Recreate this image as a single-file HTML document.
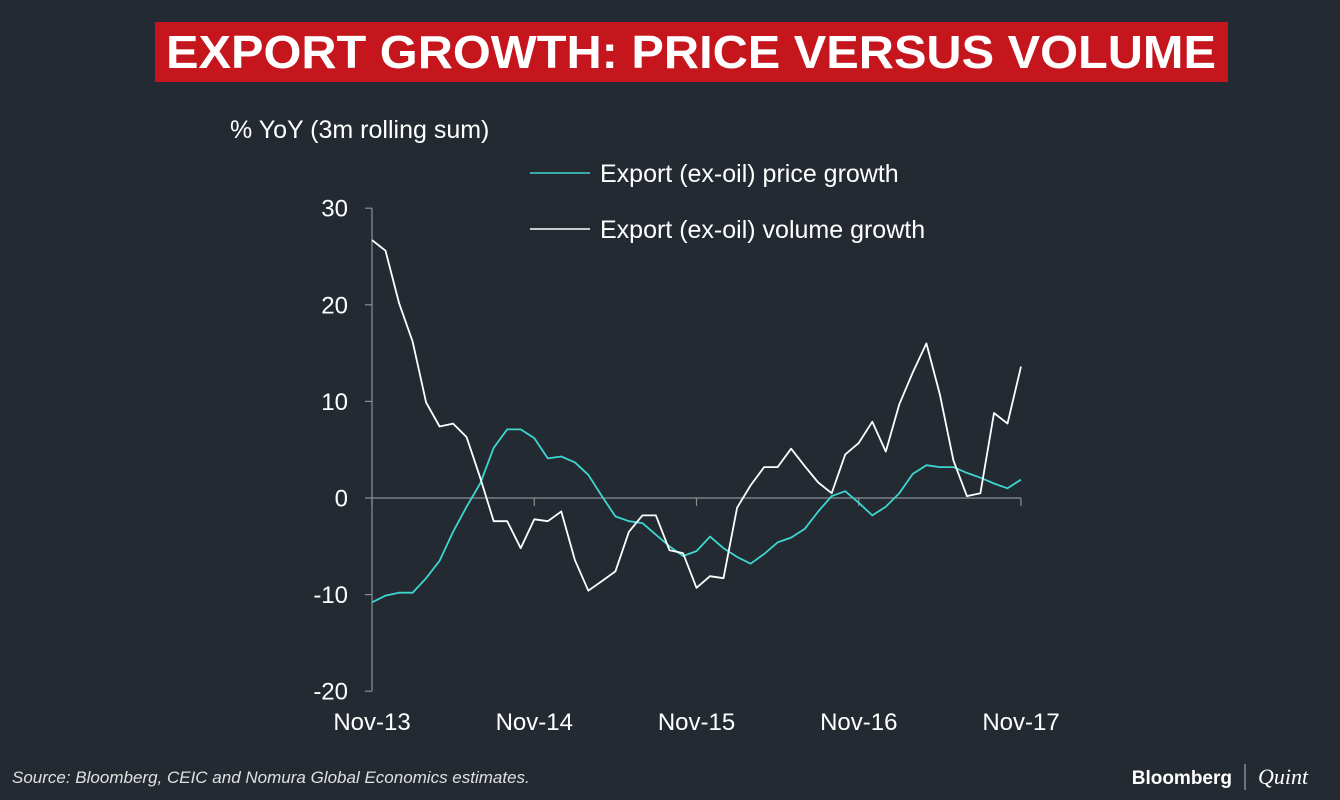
<!DOCTYPE html>
<html><head><meta charset="utf-8"><style>
html,body{margin:0;padding:0;background:#232a31;}
svg{display:block;font-family:"Liberation Sans",Arial,sans-serif;}
</style></head><body>
<svg id="chart" width="1340" height="800" viewBox="0 0 1340 800">
<rect x="0" y="0" width="1340" height="800" fill="#232a31"/>
<rect x="155" y="22" width="1073" height="60" fill="#c4161c"/>
<text x="691" y="68" text-anchor="middle" fill="#fff" font-size="46" font-weight="bold" textLength="1050" lengthAdjust="spacingAndGlyphs">EXPORT GROWTH: PRICE VERSUS VOLUME</text>
<text x="230" y="138" fill="#fff" font-size="25">% YoY (3m rolling sum)</text>
<g>
<line x1="530" y1="173" x2="590" y2="173" stroke="#3dd6d0" stroke-width="1.6"/>
<text x="600" y="182" fill="#fff" font-size="25">Export (ex-oil) price growth</text>
<line x1="530" y1="229" x2="590" y2="229" stroke="#fff" stroke-width="1.6"/>
<text x="600" y="238" fill="#fff" font-size="25">Export (ex-oil) volume growth</text>
</g>
<g id="axes"></g>
<g id="series"></g>
<text x="12" y="783" fill="#e0e0e0" font-size="17" font-style="italic">Source: Bloomberg, CEIC and Nomura Global Economics estimates.</text>
<text x="1232" y="784" text-anchor="end" fill="#fff" font-size="19" font-weight="bold">Bloomberg</text>
<line x1="1245" y1="764" x2="1245" y2="790" stroke="#bbb" stroke-width="1"/>
<text x="1258" y="784" fill="#fff" font-size="22" font-style="italic" font-family="Liberation Serif, serif">Quint</text>
</svg>
<script>
const yTicks = [30, 20, 10, 0, -10, -20];
const xTickLabels = ["Nov-13", "Nov-14", "Nov-15", "Nov-16", "Nov-17"];
const xTickIndex = [0, 12, 24, 36, 48];
const priceGrowth = [-10.8,-10.1,-9.8,-9.8,-8.3,-6.5,-3.5,-0.9,1.5,5.2,7.1,7.1,6.2,4.1,4.3,3.7,2.4,0.2,-1.9,-2.4,-2.6,-3.8,-5.0,-6.0,-5.5,-4.0,-5.2,-6.1,-6.8,-5.8,-4.6,-4.1,-3.2,-1.4,0.2,0.7,-0.5,-1.8,-0.9,0.5,2.5,3.4,3.2,3.2,2.6,2.1,1.5,1.0,1.9];
const volumeGrowth = [26.7,25.6,20.2,16.2,9.9,7.4,7.7,6.3,2.1,-2.4,-2.4,-5.2,-2.2,-2.4,-1.4,-6.4,-9.6,-8.6,-7.6,-3.5,-1.8,-1.8,-5.4,-5.7,-9.3,-8.1,-8.3,-1.0,1.3,3.2,3.2,5.1,3.3,1.6,0.5,4.5,5.7,7.9,4.8,9.7,13.0,16.0,10.7,3.9,0.2,0.5,8.8,7.7,13.6];

const NS = "http://www.w3.org/2000/svg";
const X0 = 372, X1 = 1021, Y0 = 498, PX_PER_UNIT = 9.66;
const nPts = priceGrowth.length;
function xScale(i){ return X0 + (X1 - X0) * i / (nPts - 1); }
function yScale(v){ return Y0 - v * PX_PER_UNIT; }
function mk(tag, attrs, parent){ const e = document.createElementNS(NS, tag); for (const k in attrs) e.setAttribute(k, attrs[k]); parent.appendChild(e); return e; }

const axes = document.getElementById("axes");
const yAxis = mk("line", {x1:X0, y1:yScale(30), x2:X0, y2:yScale(-20), stroke:"#8a9096", "stroke-width":1.2}, axes);


yTicks.forEach(v => {
  const t = mk("line", {x1:X0-7, y1:yScale(v), x2:X0, y2:yScale(v), stroke:"#8a9096", "stroke-width":1.2}, axes);
  
  
  const l = mk("text", {x:348, y:yScale(v)+8.5, "text-anchor":"end", fill:"#fff", "font-size":24}, axes);
  l.textContent = v;
  
  
});
const xAxis = mk("line", {x1:X0, y1:Y0, x2:X1, y2:Y0, stroke:"#8a9096", "stroke-width":1.2}, axes);


xTickIndex.forEach((idx, k) => {
  const t = mk("line", {x1:xScale(idx), y1:Y0, x2:xScale(idx), y2:Y0+8, stroke:"#8a9096", "stroke-width":1.2}, axes);
  
  
  const l = mk("text", {x:xScale(idx), y:730, "text-anchor":"middle", fill:"#fff", "font-size":24}, axes);
  l.textContent = xTickLabels[k];
  
  
});

const series = document.getElementById("series");
function line(data, color, name){
  const d = data.map((v,i) => (i ? "L" : "M") + xScale(i).toFixed(1) + "," + yScale(v).toFixed(1)).join(" ");
  const p = mk("path", {d:d, fill:"none", stroke:color, "stroke-width":1.8, "stroke-linejoin":"round"}, series);
  
  
}
line(priceGrowth, "#3dd6d0", "price-growth-line");
line(volumeGrowth, "#ffffff", "volume-growth-line");
</script>
</body></html>
